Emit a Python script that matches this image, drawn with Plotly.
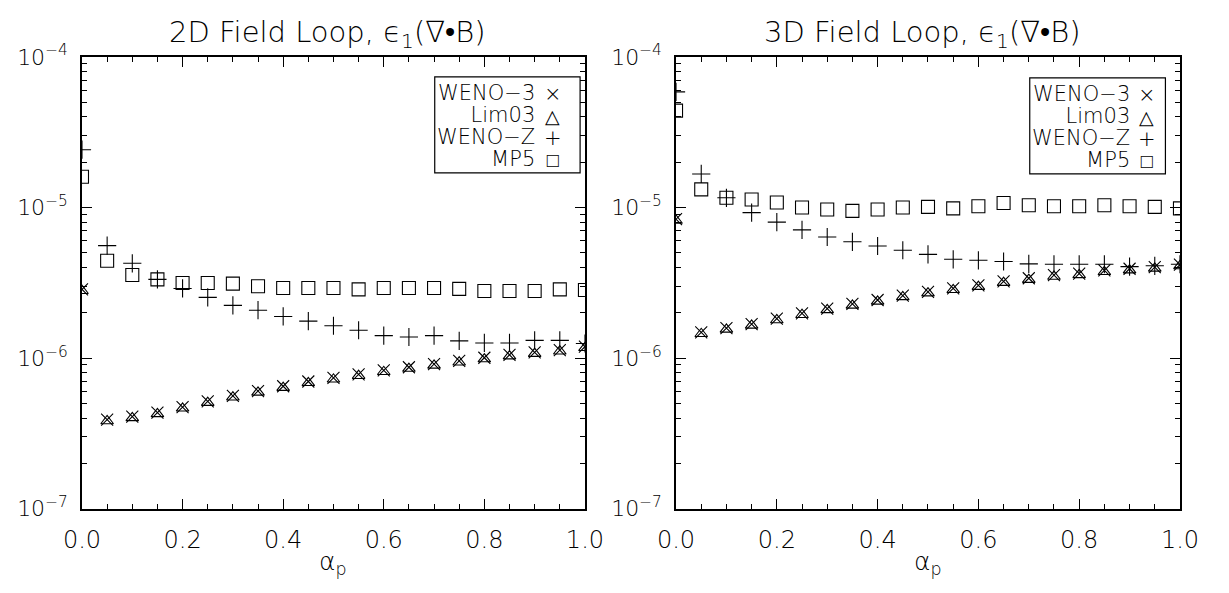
import plotly.graph_objects as go

alpha = [0.00, 0.05, 0.10, 0.15, 0.20, 0.25, 0.30, 0.35, 0.40, 0.45, 0.50,
         0.55, 0.60, 0.65, 0.70, 0.75, 0.80, 0.85, 0.90, 0.95, 1.00]

# 2D field loop
weno3_2d = [2.86e-6, 3.90e-7, 4.09e-7, 4.34e-7, 4.73e-7, 5.16e-7, 5.61e-7, 6.04e-7, 6.50e-7, 6.99e-7, 7.38e-7,
            7.80e-7, 8.28e-7, 8.69e-7, 9.12e-7, 9.57e-7, 1.005e-6, 1.05e-6, 1.09e-6, 1.13e-6, 1.19e-6]
lim03_2d = [2.80e-6, 3.82e-7, 4.01e-7, 4.26e-7, 4.64e-7, 5.06e-7, 5.50e-7, 5.92e-7, 6.37e-7, 6.85e-7, 7.23e-7,
            7.64e-7, 8.11e-7, 8.52e-7, 8.94e-7, 9.38e-7, 9.85e-7, 1.03e-6, 1.07e-6, 1.11e-6, 1.17e-6]
wenoz_2d = [2.42e-5, 5.58e-6, 4.26e-6, 3.33e-6, 2.90e-6, 2.53e-6, 2.24e-6, 2.08e-6, 1.89e-6, 1.76e-6, 1.64e-6,
            1.53e-6, 1.41e-6, 1.38e-6, 1.41e-6, 1.30e-6, 1.26e-6, 1.26e-6, 1.31e-6, 1.31e-6, 1.25e-6]
mp5_2d = [1.60e-5, 4.43e-6, 3.56e-6, 3.33e-6, 3.15e-6, 3.15e-6, 3.12e-6, 3.00e-6, 2.92e-6, 2.92e-6, 2.92e-6,
          2.86e-6, 2.92e-6, 2.92e-6, 2.92e-6, 2.88e-6, 2.79e-6, 2.79e-6, 2.79e-6, 2.86e-6, 2.83e-6]

# 3D field loop
weno3_3d = [8.36e-6, 1.48e-6, 1.58e-6, 1.68e-6, 1.83e-6, 1.98e-6, 2.13e-6, 2.29e-6, 2.43e-6, 2.60e-6, 2.75e-6,
            2.90e-6, 3.04e-6, 3.23e-6, 3.39e-6, 3.55e-6, 3.64e-6, 3.82e-6, 3.92e-6, 4.02e-6, 4.17e-6]
lim03_3d = [8.20e-6, 1.45e-6, 1.55e-6, 1.65e-6, 1.79e-6, 1.94e-6, 2.09e-6, 2.24e-6, 2.38e-6, 2.55e-6, 2.70e-6,
            2.84e-6, 2.98e-6, 3.17e-6, 3.32e-6, 3.48e-6, 3.57e-6, 3.74e-6, 3.84e-6, 3.94e-6, 4.09e-6]
wenoz_3d = [5.86e-5, 1.67e-5, 1.16e-5, 9.25e-6, 8.00e-6, 7.10e-6, 6.37e-6, 5.92e-6, 5.55e-6, 5.20e-6, 4.88e-6,
            4.53e-6, 4.46e-6, 4.38e-6, 4.22e-6, 4.20e-6, 4.20e-6, 4.20e-6, 4.05e-6, 4.10e-6, 4.20e-6]
mp5_3d = [4.40e-5, 1.32e-5, 1.16e-5, 1.13e-5, 1.08e-5, 1.00e-5, 9.70e-6, 9.50e-6, 9.70e-6, 1.00e-5, 1.01e-5,
          9.87e-6, 1.02e-5, 1.07e-5, 1.035e-5, 1.02e-5, 1.02e-5, 1.035e-5, 1.02e-5, 1.01e-5, 9.87e-6]

titles = ["2D Field Loop, \u03f5<sub>1</sub>(\u2207\u2022B)", "3D Field Loop, \u03f5<sub>1</sub>(\u2207\u2022B)"]
legend_names = ["WENO\u22123", "Lim03", "WENO\u2212Z", "MP5"]
legend_glyphs = ["\u00d7", "\u25b3", "+", "\u25a1"]
legend_glyph_sizes = [21, 19, 21, 20]
ytick_vals = [1e-7, 1e-6, 1e-5, 1e-4]
ytick_text = ["10<sup>\u22127</sup>", "10<sup>\u22126</sup>", "10<sup>\u22125</sup>", "10<sup>\u22124</sup>"]
minor_vals = [m * 10.0 ** e for e in (-7, -6, -5) for m in range(2, 10)]

FONT = "DejaVu Sans, sans-serif"
TXT = "black"
WEIGHT = 300
W, H = 1229, 593

fig = go.Figure()

panels = [
    ("x", "y", weno3_2d, lim03_2d, wenoz_2d, mp5_2d),
    ("x2", "y2", weno3_3d, lim03_3d, wenoz_3d, mp5_3d),
]
styles = [
    ("WENO-3", "x-thin-open", 12),
    ("Lim03", "triangle-up-open", 11),
    ("WENO-Z", "cross-thin-open", 13),
    ("MP5", "square-open", 13),
]
for xa, ya, *series in panels:
    for (name, sym, sz), vals in zip(styles, series):
        fig.add_trace(go.Scatter(
            x=alpha, y=vals, xaxis=xa, yaxis=ya, mode="markers", name=name,
            showlegend=False,
            marker=dict(symbol=sym, size=sz, color="black",
                        line=dict(color="black", width=1.1)),
        ))

xdoms = [(65 / W, 584 / W), (678 / W, 1198 / W)]
ydom = (1 - 518 / H, 1 - 43 / H)

common_x = dict(range=[0, 1], dtick=0.2, tickformat=".1f", ticks="inside", ticklen=10,
                tickwidth=1.2, tickcolor="black", showline=True, linecolor="black",
                linewidth=1.5, mirror="ticks", showgrid=False, zeroline=False,
                tickfont=dict(family=FONT, size=24, color=TXT, weight=WEIGHT),
                ticklabelstandoff=9,
                minor=dict(dtick=0.05, ticks="inside", ticklen=5, tickwidth=1.2,
                           tickcolor="black", showgrid=False))
common_y = dict(type="log", range=[-7, -4], tickvals=ytick_vals, ticktext=ytick_text,
                ticks="inside", ticklen=10, tickwidth=1.2, tickcolor="black",
                showline=True, linecolor="black", linewidth=1.5, mirror="ticks",
                showgrid=False, zeroline=False,
                tickfont=dict(family=FONT, size=22, color=TXT, weight=WEIGHT),
                ticklabelstandoff=8,
                minor=dict(tickvals=minor_vals, ticks="inside", ticklen=5, tickwidth=1.2,
                           tickcolor="black", showgrid=False))

fig.update_layout(
    width=W, height=H, margin=dict(l=0, r=0, t=0, b=0),
    paper_bgcolor="white", plot_bgcolor="white",
    xaxis=dict(domain=list(xdoms[0]), anchor="y", **common_x),
    yaxis=dict(domain=list(ydom), anchor="x", **common_y),
    xaxis2=dict(domain=list(xdoms[1]), anchor="y2", **common_x),
    yaxis2=dict(domain=list(ydom), anchor="x2", **common_y),
)

# legend geometry per panel (pixels): box left/right/top/bottom, text right edge, glyph centre
legend_boxes = [(429, 579, 64, 165, 534, 551), (1043, 1183, 65, 166, 1147, 1164)]
LINE_PX = 22  # line pitch inside the legend box
base_size = LINE_PX / 1.3

names_html = "<br>".join('<span style="font-size:21px">%s</span>' % n for n in legend_names)
glyphs_html = "<br>".join('<span style="font-size:%dpx">%s</span>' % (s, g)
                          for g, s in zip(legend_glyphs, legend_glyph_sizes))

annotations = []
shapes = []
for i, (x0, x1) in enumerate(xdoms):
    xc = (x0 + x1) / 2
    annotations.append(dict(text=titles[i], x=xc - 6 / W, y=1 - 19 / H, xref="paper",
                            yref="paper", xanchor="center", yanchor="middle", showarrow=False,
                            font=dict(family=FONT, size=29, color=TXT, weight=WEIGHT)))
    annotations.append(dict(text="\u03b1<sub>p</sub>", x=xc, y=1 - 575 / H, xref="paper",
                            yref="paper", xanchor="center", yanchor="middle", showarrow=False,
                            font=dict(family=FONT, size=25, color=TXT, weight=WEIGHT)))
    bl, br, bt, bb, tr, gc = legend_boxes[i]
    shapes.append(dict(type="rect", xref="paper", yref="paper", x0=bl / W, x1=br / W,
                       y0=1 - bb / H, y1=1 - bt / H, line=dict(color="black", width=1.2),
                       fillcolor="white", layer="above"))
    ymid = 1 - ((bt + bb) / 2 + 1) / H
    annotations.append(dict(text=names_html, x=tr / W, y=ymid, xref="paper", yref="paper",
                            xanchor="right", yanchor="middle", align="right",
                            showarrow=False, borderpad=0,
                            font=dict(family=FONT, size=base_size, color=TXT, weight=WEIGHT)))
    annotations.append(dict(text=glyphs_html, x=gc / W, y=ymid - 1 / H, xref="paper",
                            yref="paper", xanchor="center", yanchor="middle", align="center",
                            showarrow=False, borderpad=0,
                            font=dict(family=FONT, size=base_size, color=TXT, weight=WEIGHT)))
fig.update_layout(annotations=annotations, shapes=shapes)

fig.write_html("out.html")
